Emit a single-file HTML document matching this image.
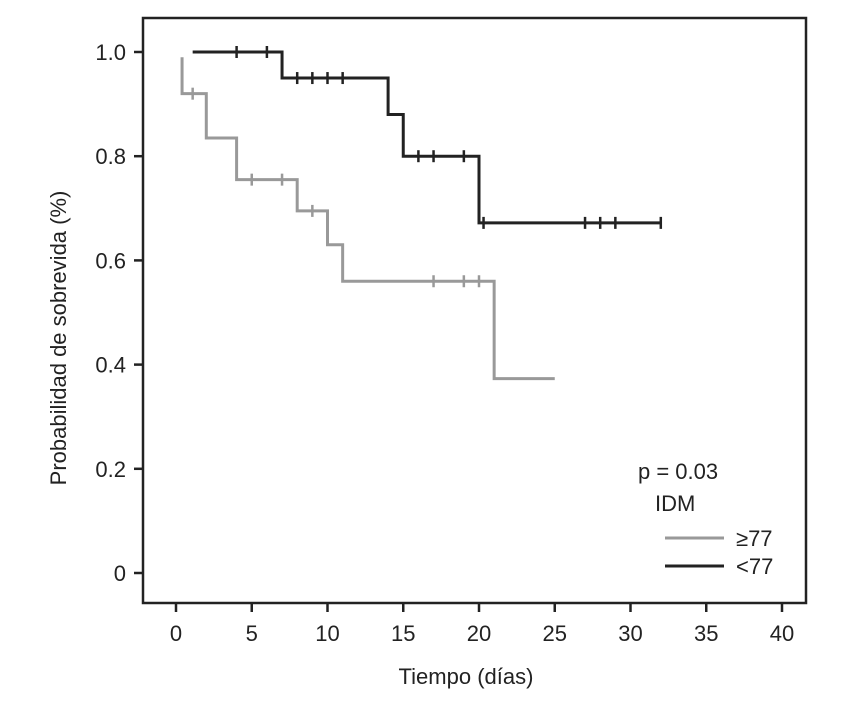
<!DOCTYPE html>
<html><head><meta charset="utf-8"><style>
body{margin:0;background:#fff}
svg text{font-family:"Liberation Sans Narrow","Liberation Sans",sans-serif;fill:#222}
</style></head><body>
<svg width="854" height="712" id="c">
<rect x="143" y="18" width="663" height="585" fill="none" stroke="#222" stroke-width="2.5"/>
<g id="axes"></g>
<g id="series"></g>
<text x="28" y="300" font-size="22" text-anchor="middle" transform="rotate(-90 66 300)">Probabilidad de sobrevida (%)</text>
<text x="466" y="684" font-size="22" text-anchor="middle">Tiempo (días)</text>
<text x="638" y="479" font-size="22">p = 0.03</text>
<text x="655" y="511" font-size="22">IDM</text>
<line x1="665" y1="538" x2="724" y2="538" stroke="#999" stroke-width="3"/>
<text x="736" y="546" font-size="22">≥77</text>
<line x1="665" y1="566" x2="724" y2="566" stroke="#222" stroke-width="3"/>
<text x="736" y="574" font-size="22">&lt;77</text>
</svg>
<script>
const xTicks=[0,5,10,15,20,25,30,35,40];
const yTicks=[0,0.2,0.4,0.6,0.8,1.0];
const yTickLabels=["0","0.2","0.4","0.6","0.8","1.0"];
const grayStart=[0.4,0.99];
const grayTimes=[0.4,2,4,8,10,11,21];
const grayVals=[0.92,0.835,0.755,0.695,0.63,0.56,0.373];
const grayEnd=25;
const grayCensor=[1.1,5,7,9,17,19,20];
const blackStart=[1.1,1.0];
const blackTimes=[7,14,15,20];
const blackVals=[0.95,0.88,0.80,0.672];
const blackEnd=32;
const blackCensor=[4,6,8,9,10,11,16,17,19,20.3,27,28,29,32];

const X=t=>176+t*(782-176)/40;
const Y=v=>573-v*521;
const NS="http://www.w3.org/2000/svg";
const ax=document.getElementById('axes'),se=document.getElementById('series');
function mk(tag,attrs,parent){const e=document.createElementNS(NS,tag);for(const k in attrs)e.setAttribute(k,attrs[k]);parent.appendChild(e);return e;}
xTicks.forEach(t=>{
 const l=mk('line',{x1:X(t),x2:X(t),y1:603,y2:612,stroke:'#222','stroke-width':2.5},ax);
 
 
 const tx=mk('text',{x:X(t),y:641,'font-size':22,'text-anchor':'middle'},ax);tx.textContent=t;
 
 
});
yTicks.forEach((v,i)=>{
 const l=mk('line',{x1:134,x2:143,y1:Y(v),y2:Y(v),stroke:'#222','stroke-width':2.5},ax);
 
 
 const tx=mk('text',{x:126,y:Y(v)+8,'font-size':22,'text-anchor':'end'},ax);tx.textContent=yTickLabels[i];
 
 
});
function curve(start,times,vals,end,censor,color,name){
 let d='M'+X(start[0])+','+Y(start[1]);
 const steps=times.map((t,i)=>[t,vals[i]]);
 steps.forEach(([t,v])=>{d+=' H'+X(t)+' V'+Y(v);});
 d+=' H'+X(end);
 const p=mk('path',{d:d,fill:'none',stroke:color,'stroke-width':3},se);
 
 
 censor.forEach(c=>{
  let v=start[1];steps.forEach(([t,vv])=>{if(c>=t)v=vv;});
  const m=mk('line',{x1:X(c),x2:X(c),y1:Y(v)-6,y2:Y(v)+6,stroke:color,'stroke-width':2.5},se);
  
  
 });
}
curve(grayStart,grayTimes,grayVals,grayEnd,grayCensor,'#999','ge77');
curve(blackStart,blackTimes,blackVals,blackEnd,blackCensor,'#222','lt77');
</script>
</body></html>
